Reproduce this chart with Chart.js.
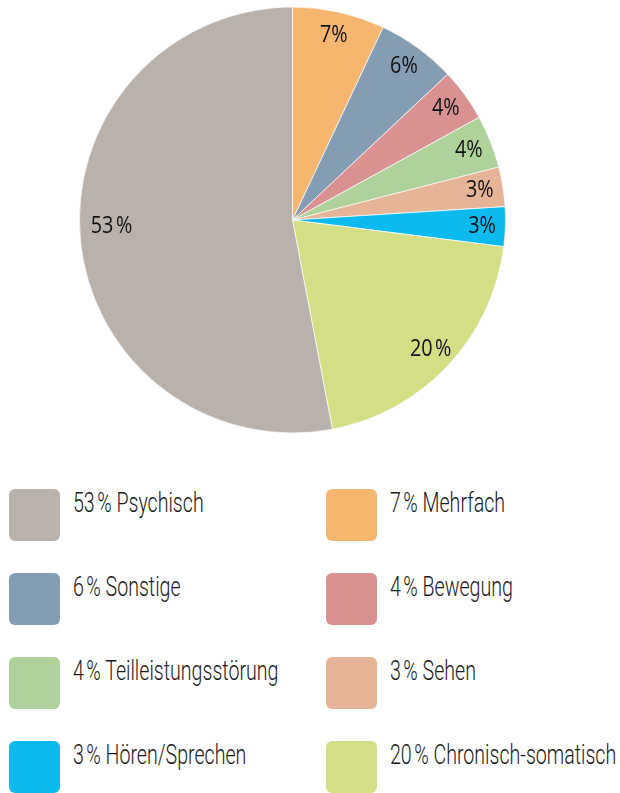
<!DOCTYPE html>
<html>
<head>
<meta charset="utf-8">
<script src="https://cdn.jsdelivr.net/npm/chart.js@4/dist/chart.umd.min.js"></script>
<style>
  html, body { margin: 0; padding: 0; background: #fff; }
  body { width: 620px; height: 793px; position: relative; overflow: hidden; }
  #chartBox { position: absolute; left: 0; top: 0; width: 620px; height: 440px; }
  #legend { position: absolute; left: 0; top: 489px; width: 620px; }
  .item { position: absolute; height: 52px; }
  .box { position: absolute; left: 0; top: 0; width: 51px; height: 52px; border-radius: 6px; }
  .txt { position: absolute; left: 64px; top: -3px; white-space: nowrap;
         font-family: Roboto, "DejaVu Sans Condensed", sans-serif; font-weight: 300;
         font-size: 28px; line-height: 34px; color: #1a1a1a; transform-origin: 0 0; transform: scaleX(0.7); }
</style>
</head>
<body>
<div id="chartBox"><canvas id="pieChart"></canvas></div>
<div id="legend"></div>
<script>
const categories = ['Mehrfach', 'Sonstige', 'Bewegung', 'Teilleistungsstörung', 'Sehen', 'Hören/Sprechen', 'Chronisch-somatisch', 'Psychisch'];
const values = [7, 6, 4, 4, 3, 3, 20, 53];
const sliceLabels = ['7%', '6%', '4%', '4%', '3%', '3%', '20\u202F%', '53\u202F%'];
const colors = ['#f7b670', '#849db3', '#d99192', '#afd29b', '#e6b597', '#0cbbee', '#d4df85', '#b9b1ac'];

// legend order as in the reference (two columns)
const legendOrder = [7, 0, 1, 2, 3, 4, 5, 6];

const sliceLabelPlugin = {
    id: 'sliceLabels',
    afterDatasetsDraw(chart) {
        const c = chart.ctx;
        const meta = chart.getDatasetMeta(0);
        c.save();
        c.fillStyle = '#111';
        c.font = '23px "Open Sans", sans-serif';
        c.textAlign = 'center';
        c.textBaseline = 'middle';
        meta.data.forEach((arc, i) => {
            const p = arc.getProps(['x', 'y', 'startAngle', 'endAngle', 'outerRadius'], true);
            let mid = (p.startAngle + p.endAngle) / 2;
            let r = p.outerRadius * 0.89;
            if (i === 7) { mid += 0.06; r = p.outerRadius * 0.85; }
            const x = p.x + Math.cos(mid) * r, y = p.y + Math.sin(mid) * r;
            c.save();
            c.translate(x, y);
            c.scale(0.86, 1);
            c.fillText(sliceLabels[i], 0, 0);
            c.restore();
        });
        c.restore();
    }
};

new Chart(document.getElementById('pieChart'), {
    type: 'pie',
    data: {
        labels: categories,
        datasets: [{
            data: values,
            backgroundColor: colors,
            borderColor: 'rgba(255,255,255,0.7)',
            borderWidth: 1
        }]
    },
    options: {
        responsive: true,
        maintainAspectRatio: false,
        animation: false,
        layout: { padding: { left: 79, right: 114, top: 6, bottom: 6 } },
        plugins: {
            legend: { display: false },
            tooltip: { enabled: false }
        }
    },
    plugins: [sliceLabelPlugin]
});

// HTML legend
const legend = document.getElementById('legend');
legendOrder.forEach((idx, n) => {
    const col = n % 2, row = Math.floor(n / 2);
    const item = document.createElement('div');
    item.className = 'item';
    item.style.left = (col === 0 ? 9 : 326) + 'px';
    item.style.top = (row * 84) + 'px';
    const box = document.createElement('div');
    box.className = 'box';
    box.style.background = colors[idx];
    const txt = document.createElement('div');
    txt.className = 'txt';
    txt.textContent = values[idx] + '\u202F% ' + categories[idx];
    item.appendChild(box);
    item.appendChild(txt);
    legend.appendChild(item);
});
</script>
</body>
</html>
